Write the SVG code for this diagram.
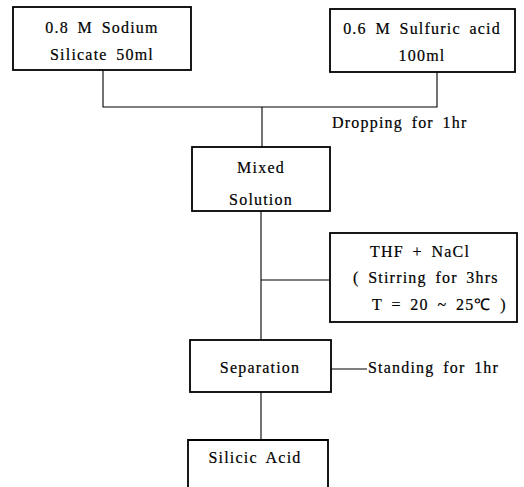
<svg xmlns="http://www.w3.org/2000/svg" width="524" height="487" viewBox="0 0 524 487">
<style>
.box{fill:#fff;stroke:#000;stroke-width:1.8}
.t{font-family:'Liberation Serif','Times New Roman',serif;font-size:16px;fill:#000;stroke:#000;stroke-width:0.2;letter-spacing:1.2px;word-spacing:3.5px}
.c{text-anchor:middle}
.ln{fill:none;stroke:#000;stroke-width:1.1}
</style>
<rect width="524" height="487" fill="#fff"/>
<g id="connectors">
<polyline class="ln" points="103,70 103,107 437,107 437,72"/>
<line class="ln" x1="262" y1="107" x2="262" y2="147"/>
<line class="ln" x1="261" y1="211" x2="261" y2="340"/>
<line class="ln" x1="261" y1="280" x2="330" y2="280"/>
<line class="ln" x1="331" y1="369" x2="367" y2="369"/>
<line class="ln" x1="261" y1="392" x2="261" y2="440"/>
</g>
<g id="sodium">
<rect class="box" x="13" y="7" width="178" height="63"/>
<text class="t c" x="102" y="33">0.8 M Sodium</text>
<text class="t c" x="102" y="60">Silicate 50ml</text>
</g>
<g id="sulfuric">
<rect class="box" x="330" y="9" width="185" height="63"/>
<text class="t c" x="422" y="34">0.6 M Sulfuric acid</text>
<text class="t c" x="422" y="61">100ml</text>
</g>
<g id="dropping">
<text class="t" x="332" y="128">Dropping for 1hr</text>
</g>
<g id="mixed">
<rect class="box" x="192" y="147" width="138" height="64"/>
<text class="t c" x="261" y="173">Mixed</text>
<text class="t c" x="261" y="205">Solution</text>
</g>
<g id="thf">
<rect class="box" x="330" y="233" width="187" height="89"/>
<text class="t" x="370" y="257">THF + NaCl</text>
<text class="t" x="353" y="283">( Stirring for 3hrs</text>
<text class="t" x="372" y="310">T = 20 ~ 25℃ )</text>
</g>
<g id="separation">
<rect class="box" x="190" y="340" width="141" height="52"/>
<text class="t c" x="260" y="373">Separation</text>
</g>
<g id="standing">
<text class="t" x="368" y="373">Standing for 1hr</text>
</g>
<g id="silicic">
<path class="box" d="M188,495 V440 H328 V495"/>
<text class="t c" x="255" y="463">Silicic Acid</text>
</g>
</svg>
